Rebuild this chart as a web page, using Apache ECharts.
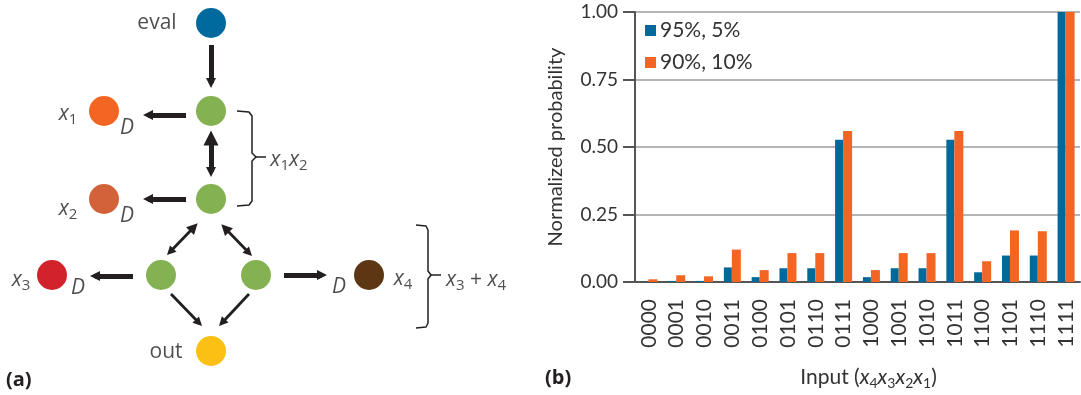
<!DOCTYPE html>
<html>
<head>
<meta charset="utf-8">
<script src="https://cdn.jsdelivr.net/npm/echarts@6/dist/echarts.min.js"></script>
<style>
  html, body { margin: 0; padding: 0; background: #fff; }
  #main { width: 1081px; height: 395px; }
</style>
</head>
<body>
<div id="main"></div>
<script>
// ---- panel (b) data ----
var categories = ['0000', '0001', '0010', '0011', '0100', '0101', '0110', '0111',
                  '1000', '1001', '1010', '1011', '1100', '1101', '1110', '1111'];
var seriesNames = ['95%, 5%', '90%, 10%'];
var probs95 = [0.001, 0.004, 0.004, 0.054, 0.018, 0.051, 0.051, 0.527,
               0.018, 0.051, 0.051, 0.527, 0.036, 0.098, 0.098, 1.0];
var probs90 = [0.010, 0.025, 0.021, 0.120, 0.044, 0.107, 0.107, 0.559,
               0.044, 0.107, 0.107, 0.559, 0.077, 0.191, 0.188, 1.0];

// ---- panel (a) data: nodes of the diagram ----
var nodeNames = ['eval', 'g1', 'g2', 'g3', 'g4', 'out', 'x1', 'x2', 'x3', 'x4'];
var nodeX = [211, 211, 211, 161, 256, 211, 104, 104, 52, 369];
var nodeY = [23, 111, 199, 275, 275, 351, 111, 199, 275, 275];
var nodeColors = ['#006a9e', '#84b152', '#84b152', '#84b152', '#84b152',
                  '#fcbf14', '#f26522', '#d3623b', '#d2222b', '#5d3714'];

// arrows: [tail, tip]
var thickArrows = [[[211, 45], [211, 88]], [[186, 115], [143, 115]], [[186, 199], [143, 199]],
                   [[133, 276], [90, 276]], [[284, 275], [327, 275]]];
var thickDouble = [[[211, 133], [211, 177]]];
var thinDouble = [[[197, 224], [167, 255]], [[222, 225], [252, 256]]];
var thinArrows = [[[171, 294], [202, 326]], [[249, 294], [219, 326]]];
var brackets = [
  [[237, 111], [249, 112], [252, 116], [252, 153], [256, 157], [252, 161], [252, 201], [249, 205], [237, 206]],
  [[256, 157], [266, 157]],
  [[416, 225], [426, 226], [428, 230], [428, 271], [431, 275], [428, 279], [428, 323], [426, 327], [416, 328]],
  [[431, 275], [441, 275]]
];
var diagramLabels = [
  ['eval', 157, 23], ['out', 166, 352],
  ['{i|x}{s|1}', 68, 114], ['{i|D}', 127, 128],
  ['{i|x}{s|2}', 68, 209], ['{i|D}', 127, 216],
  ['{i|x}{s|3}', 21, 280], ['{i|D}', 78, 288],
  ['{i|D}', 339, 287], ['{i|x}{s|4}', 403, 279],
  ['{i|x}{s|1}{i|x}{s|2}', 289, 160],
  ['{i|x}{s|3} + {i|x}{s|4}', 476, 280]
];

var ink = '#231f20';
var txt = '#333333';
var rich = {
  i: { fontStyle: 'italic', fontSize: 21, lineHeight: 26, fontFamily: 'Open Sans', color: ink },
  s: { fontSize: 15, verticalAlign: 'bottom', fontFamily: 'Open Sans', color: ink }
};

function pull(from, to, d) {
  var dx = to[0] - from[0], dy = to[1] - from[1];
  var len = Math.sqrt(dx * dx + dy * dy);
  return [to[0] - dx / len * d, to[1] - dy / len * d];
}
function arrowData(list, head, both) {
  return list.map(function (a) {
    var tip = pull(a[0], a[1], head / 2);
    var tail = both ? pull(a[1], a[0], head / 2) : a[0];
    return { coords: [tail, tip] };
  });
}
function linesSeries(data, width, symbols, size, poly) {
  return {
    type: 'lines', coordinateSystem: 'cartesian2d', xAxisIndex: 0, yAxisIndex: 0,
    polyline: !!poly, silent: true, symbol: symbols, symbolSize: size,
    lineStyle: { color: ink, width: width, opacity: 1, join: 'round' },
    itemStyle: { color: ink },
    data: data, z: 2
  };
}

var chart = echarts.init(document.getElementById('main'));
chart.setOption({
  animation: false,
  textStyle: { fontFamily: 'Lato' },
  grid: [
    { left: 0, top: 0, width: 540, height: 395 },
    { left: 635, top: 12, width: 445, height: 272 }
  ],
  legend: {
    data: seriesNames, orient: 'vertical', left: 645, top: 20, padding: 0,
    itemWidth: 11, itemHeight: 11, itemGap: 11, icon: 'rect',
    textStyle: { fontSize: 21, color: txt, fontFamily: 'Lato', padding: [0, 0, 0, -1] }
  },
  xAxis: [
    { gridIndex: 0, type: 'value', min: 0, max: 540, show: false },
    {
      gridIndex: 1, type: 'category', data: categories,
      axisLine: { lineStyle: { color: '#555', width: 2 } },
      axisTick: { length: 10, lineStyle: { color: '#555', width: 2 } },
      axisLabel: { rotate: 90, interval: 0, fontSize: 21, margin: 17, color: txt },
      name: 'Input ({i|x}{s|4}{i|x}{s|3}{i|x}{s|2}{i|x}{s|1})',
      nameLocation: 'middle', nameGap: 82,
      nameTextStyle: {
        fontSize: 21, color: txt, lineHeight: 26, padding: [0, 0, 0, 22],
        rich: {
          i: { fontStyle: 'italic', fontSize: 21, lineHeight: 26, color: txt },
          s: { fontSize: 14, verticalAlign: 'bottom', color: txt }
        }
      }
    }
  ],
  yAxis: [
    { gridIndex: 0, type: 'value', min: 0, max: 395, inverse: true, show: false },
    {
      gridIndex: 1, type: 'value', min: 0, max: 1, interval: 0.25,
      axisLine: { show: true, lineStyle: { color: '#555', width: 2 } },
      axisTick: { show: true, length: 12, lineStyle: { color: '#555', width: 2 } },
      splitLine: { lineStyle: { color: '#b5b5b5', width: 2 } },
      axisLabel: { fontSize: 19, margin: 17, color: txt, formatter: function (v) { return v.toFixed(2); } },
      name: 'Normalized probability', nameLocation: 'middle', nameGap: 69,
      nameTextStyle: { fontSize: 20, color: txt }
    }
  ],
  graphic: [
    { type: 'text', left: 6, top: 370, style: { text: '(a)', font: 'bold 20px "Open Sans"', fill: ink } },
    { type: 'text', left: 545, top: 368, style: { text: '(b)', font: 'bold 20px "Open Sans"', fill: ink } }
  ],
  series: [
    {
      name: seriesNames[0], type: 'bar', xAxisIndex: 1, yAxisIndex: 1,
      data: probs95, barWidth: 8, barGap: '0%', itemStyle: { color: '#00699b' }
    },
    {
      name: seriesNames[1], type: 'bar', xAxisIndex: 1, yAxisIndex: 1,
      data: probs90, barWidth: 9, barGap: '0%', itemStyle: { color: '#f26522' }
    },
    linesSeries(arrowData(thickArrows, 10, false), 5, ['none', 'triangle'], [15, 10]),
    linesSeries(arrowData(thickDouble, 10, true), 5, ['triangle', 'triangle'], [15, 10]),
    linesSeries(arrowData(thinDouble, 9, true), 2.8, ['triangle', 'triangle'], [11, 9]),
    linesSeries(arrowData(thinArrows, 9, false), 2.8, ['none', 'triangle'], [11, 9]),
    linesSeries(brackets.map(function (b) { return { coords: b }; }), 1.5, ['none', 'none'], 0, true),
    {
      type: 'scatter', xAxisIndex: 0, yAxisIndex: 0, symbolSize: 30, silent: true, z: 3,
      data: nodeNames.map(function (n, i) {
        return { name: n, value: [nodeX[i], nodeY[i]], itemStyle: { color: nodeColors[i], opacity: 1 } };
      })
    },
    {
      type: 'scatter', xAxisIndex: 0, yAxisIndex: 0, symbolSize: 0, silent: true, z: 4,
      data: diagramLabels.map(function (l) { return { value: [l[1], l[2]] }; }),
      label: {
        show: true, position: 'inside', fontSize: 21, fontFamily: 'Open Sans', color: ink,
        formatter: function (p) { return diagramLabels[p.dataIndex][0]; },
        rich: rich
      }
    }
  ]
});
</script>
</body>
</html>
